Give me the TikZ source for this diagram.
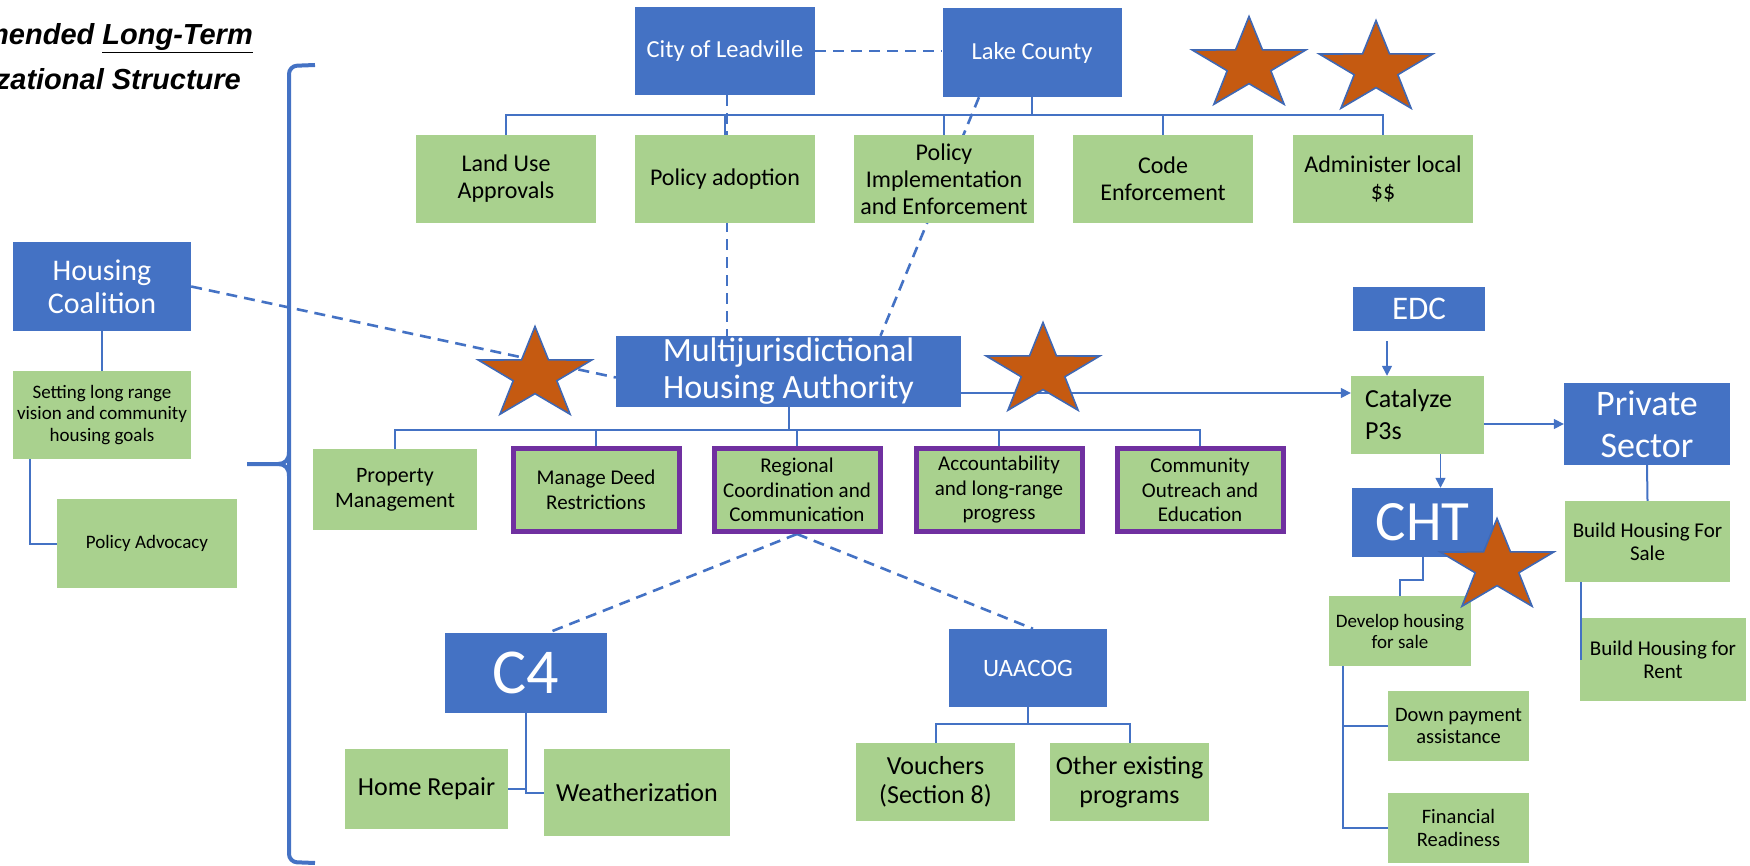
\documentclass[tikz,border=0pt]{standalone}
\usepackage{fontspec}
\setmainfont{Carlito}
\newfontfamily\headfont{Liberation Sans}
\usetikzlibrary{shapes.geometric, arrows.meta, backgrounds}

\definecolor{boxblue}{HTML}{4472C4}
\definecolor{boxgreen}{HTML}{A9D18E}
\definecolor{deedpurple}{HTML}{7030A0}
\definecolor{lineblue}{HTML}{4472C4}
\definecolor{starorange}{HTML}{C55A11}
\definecolor{starblue}{HTML}{3F68B4}

\tikzstyle{heading} = [inner sep=0pt, 
font=\headfont\bfseries\itshape\fontsize{29}{33}\selectfont]
\tikzstyle{bluebox} = [rectangle, 
fill=boxblue, text=white, 
align=center, inner sep=0pt]
\tikzstyle{greenbox} = [rectangle, 
minimum width=180pt, 
minimum height=88pt, 
align=center, inner sep=0pt, 
fill=boxgreen, 
font=\fontsize{24}{27}\selectfont]
\tikzstyle{purplebox} = [greenbox, 
draw=deedpurple, line width=5pt, 
minimum width=166pt, 
minimum height=83pt, 
font=\fontsize{21}{24.5}\selectfont]
\tikzstyle{treeline} = [lineblue, line width=2pt]
\tikzstyle{link} = [lineblue, line width=2.6pt, dash pattern=on 11pt off 7pt]
\tikzstyle{arrow} = [lineblue, line width=1.5pt, -{Triangle[length=10pt,width=10pt]}]
\tikzstyle{brace} = [lineblue, line width=4pt]
\tikzstyle{badge} = [star, star points=5, star point ratio=2.6, 
minimum size=97pt, inner sep=0pt, 
fill=starorange, draw=starblue, line width=1.6pt]

\begin{document}
\begin{tikzpicture}[x=1pt, y=1pt, node distance=219pt]
	\useasboundingbox (0,0) rectangle (1750,-866);

	% title, cut off at the left edge
	\begin{scope}
		\clip (0,0) rectangle (1750,-866);
		\node (title) [heading, anchor=base east] at (253,-45) {Recommended \underline{Long-Term}};
		\node (subtitle) [heading, anchor=base east] at (241,-90) {Organizational Structure};
	\end{scope}

	% governments
	\node (leadville) [bluebox, minimum width=180pt, minimum height=88pt, font=\fontsize{24.5}{27}\selectfont] at (725,-51) {City of Leadville};
	\node (lakecounty) [bluebox, minimum width=179pt, minimum height=89pt, font=\fontsize{24.5}{27}\selectfont, right of=leadville, xshift=88pt, yshift=-1.5pt] {Lake County};
	\node (landuse) [greenbox] at (506,-179) {Land Use\\Approvals};
	\node (policyadopt) [greenbox, right of=landuse] {Policy adoption};
	\node (policyimpl) [greenbox, right of=policyadopt] {Policy\\Implementation\\and Enforcement};
	\node (codeenf) [greenbox, right of=policyimpl] {Code\\Enforcement};
	\node (admin) [greenbox, right of=codeenf, xshift=1pt] {Administer local\\\$\$};

	% coalition
	\node (housingcoal) [bluebox, minimum width=178pt, minimum height=89pt, font=\fontsize{30}{33}\selectfont] at (102,-286.5) {Housing\\Coalition};
	\node (setting) [greenbox, minimum width=178pt, font=\fontsize{19}{21.5}\selectfont] at (102,-415) {Setting long range\\vision and community\\housing goals};
	\node (advocacy) [greenbox, minimum height=89pt, font=\fontsize{19}{21.5}\selectfont] at (147,-543.5) {Policy Advocacy};

	% housing authority
	\node (mha) [bluebox, minimum width=345pt, minimum height=71pt, font=\fontsize{34}{37}\selectfont] at (788.5,-371.5) {Multijurisdictional\\Housing Authority};
	\node (propmgmt) [greenbox, minimum width=164pt, minimum height=81pt, font=\fontsize{22}{25}\selectfont] at (395,-489.5) {Property\\Management};
	\node (managedeed) [purplebox, node distance=201pt, right of=propmgmt, yshift=-0.5pt] {Manage Deed\\Restrictions};
	\node (regional) [purplebox, node distance=201pt, right of=managedeed] {Regional\\Coordination and\\Communication};
	\node (account) [purplebox, node distance=202pt, right of=regional] {Accountability\\and long-range\\progress};
	\node (community) [purplebox, node distance=201pt, right of=account] {Community\\Outreach and\\Education};

	% partners
	\node (c4) [bluebox, minimum width=162pt, minimum height=80pt, font=\fontsize{64}{64}\selectfont] at (526,-673) {C4};
	\node (homerepair) [greenbox, minimum width=163pt, minimum height=80pt, font=\fontsize{26}{29}\selectfont] at (426.5,-789) {Home Repair};
	\node (weather) [greenbox, minimum width=186pt, minimum height=87pt, font=\fontsize{26}{29}\selectfont] at (637,-792.5) {Weatherization};
	\node (uaacog) [bluebox, minimum width=158pt, minimum height=78pt, font=\fontsize{25}{28}\selectfont] at (1028,-668) {UAACOG};
	\node (vouchers) [greenbox, minimum width=159pt, minimum height=78pt, font=\fontsize{26}{29}\selectfont] at (935.5,-782) {Vouchers\\(Section 8)};
	\node (otherprog) [greenbox, minimum width=159pt, minimum height=78pt, font=\fontsize{26}{29}\selectfont, node distance=194pt, right of=vouchers] {Other existing\\programs};

	% development side
	\node (edc) [bluebox, minimum width=132pt, minimum height=44pt, font=\fontsize{33}{36}\selectfont] at (1419,-309) {EDC};
	\node (catalyze) [greenbox, minimum width=133pt, minimum height=78pt, text width=105pt, align=left, font=\fontsize{26}{32}\selectfont] at (1417.5,-415) {Catalyze\\P3s};
	\node (private) [bluebox, minimum width=166pt, minimum height=82pt, font=\fontsize{36}{42}\selectfont] at (1647,-424) {Private\\Sector};
	\node (cht) [bluebox, minimum width=141pt, minimum height=69pt, font=\fontsize{57}{57}\selectfont] at (1422.5,-522.5) {CHT};
	\node (develop) [greenbox, minimum width=142pt, minimum height=70pt, font=\fontsize{19}{21}\selectfont] at (1400,-631) {Develop housing\\for sale};
	\node (downpay) [greenbox, minimum width=141pt, minimum height=70pt, font=\fontsize{20.5}{22.5}\selectfont] at (1458.5,-726) {Down payment\\assistance};
	\node (financial) [greenbox, minimum width=141pt, minimum height=70pt, font=\fontsize{20.5}{22.5}\selectfont, node distance=102pt, below of=downpay] {Financial\\Readiness};
	\node (buildsale) [greenbox, minimum width=165pt, minimum height=81pt, font=\fontsize{21}{23}\selectfont] at (1647.5,-541.5) {Build Housing For\\Sale};
	\node (buildrent) [greenbox, minimum width=166pt, minimum height=83pt, font=\fontsize{21}{23}\selectfont] at (1663,-659.5) {Build Housing for\\Rent};

	% dashed links sit behind the boxes
	\begin{scope}[on background layer]
		\draw [link] (leadville.east) -- (leadville.east -| lakecounty.west);
		\draw [link] ([xshift=2pt]leadville.south) -- ([xshift=2pt]leadville.south |- mha.north);
		\draw [link] ([xshift=-53pt]lakecounty.south) -- ([xshift=92pt]mha.north);
		\draw [link] (housingcoal.east) -- ([yshift=-6pt]mha.west);
		\draw [link] (regional.south) -- ([xshift=22pt]c4.north);
		\draw [link] (regional.south) -- ([xshift=5pt]uaacog.north);
	\end{scope}

	\draw [treeline] (lakecounty.south) -- ++(0,-18) -| (landuse.north);
	\draw [treeline] (lakecounty.south) -- ++(0,-18) -| (policyadopt.north);
	\draw [treeline] (lakecounty.south) -- ++(0,-18) -| (policyimpl.north);
	\draw [treeline] (lakecounty.south) -- ++(0,-18) -| (codeenf.north);
	\draw [treeline] (lakecounty.south) -- ++(0,-18) -| (admin.north);

	\draw [treeline] (housingcoal.south) -- (setting.north);
	\draw [treeline] ([xshift=17pt]setting.south west) |- (advocacy.west);

	\draw [treeline] (mha.south) -- ++(0,-23) -| (propmgmt.north);
	\draw [treeline] (mha.south) -- ++(0,-23) -| (managedeed.north);
	\draw [treeline] (mha.south) -- ++(0,-23) -| (regional.north);
	\draw [treeline] (mha.south) -- ++(0,-23) -| (account.north);
	\draw [treeline] (mha.south) -- ++(0,-23) -| (community.north);

	\draw [treeline] (c4.south) |- (weather.west);
	\draw [treeline] (homerepair.east) -| (c4.south);
	\draw [treeline] (uaacog.south) -- ++(0,-17) -| (vouchers.north);
	\draw [treeline] (uaacog.south) -- ++(0,-17) -| (otherprog.north);

	\draw [treeline] (cht.south) -- ++(0,-23) -| (develop.north);
	\draw [treeline] ([xshift=14pt]develop.south west) |- (downpay.west);
	\draw [treeline] ([xshift=14pt]develop.south west) |- (financial.west);
	\draw [treeline] (private.south) -- (buildsale.north);
	\draw [treeline] ([xshift=16pt]buildsale.south west) -- ([xshift=16pt]buildsale.south west |- buildrent.west);

	\draw [arrow] ([yshift=-21.5pt]mha.east) -- ([yshift=-21.5pt]mha.east -| catalyze.west);
	\draw [arrow, shorten <=10pt] ([xshift=-32pt]edc.south) -- ([xshift=-32pt]edc.south |- catalyze.north);
	\draw [arrow] (private.west -| catalyze.east) -- (private.west);
	\draw [arrow] ([xshift=23pt]catalyze.south) -- ([xshift=23pt]catalyze.south |- cht.north);

	% brace
	\draw [brace, rounded corners=8pt] (315,-65) -- (289,-66) -- (289,-862) -- (315,-863);
	\draw [brace] (247,-464) -- (278,-464) .. controls (285,-464) and (289,-460) .. (289,-452);
	\draw [brace] (278,-464) .. controls (285,-464) and (289,-468) .. (289,-476);

	% stars
	\node (starcity) [badge, shift={(1249,-65)}, xscale=1.23, transform shape] {};
	\node (starcounty) [badge, shift={(1376,-69)}, xscale=1.23, transform shape] {};
	\node (starcoal) [badge, shift={(535,-375)}, xscale=1.23, transform shape] {};
	\node (starmha) [badge, shift={(1043,-371)}, xscale=1.23, transform shape] {};
	\node (starcht) [badge, shift={(1497,-567)}, xscale=1.23, transform shape] {};
\end{tikzpicture}
\end{document}
